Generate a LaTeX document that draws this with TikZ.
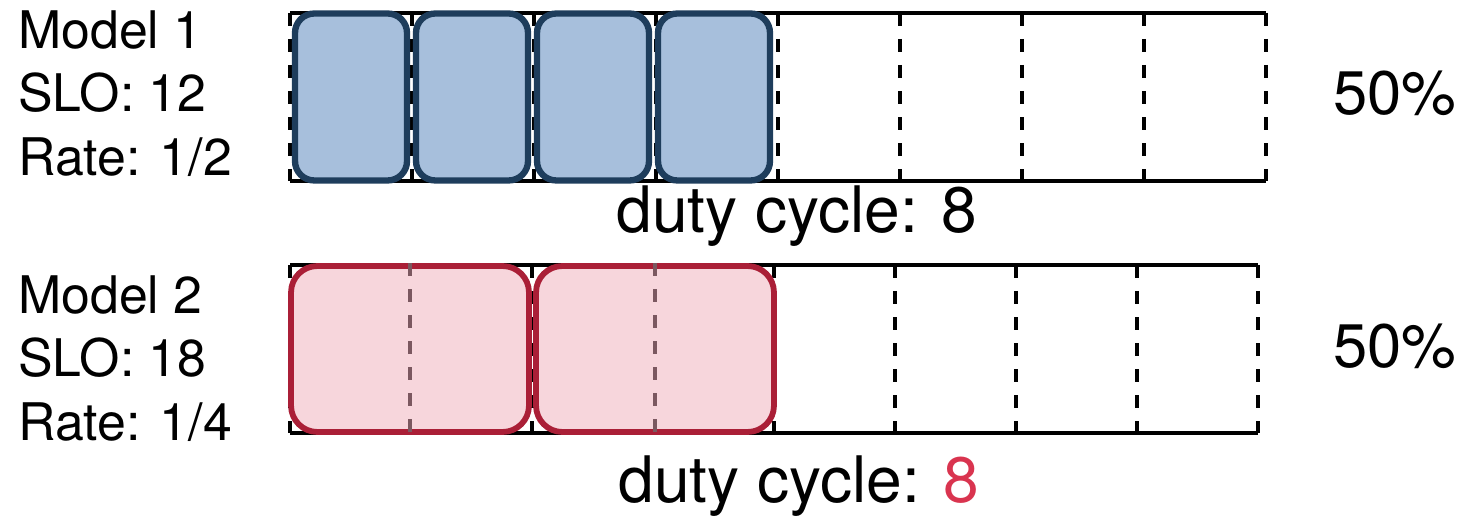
\documentclass[tikz,border=0pt]{standalone}
\usepackage{fontspec}
\setmainfont{TeX Gyre Heros}
\usetikzlibrary{positioning}
\definecolor{jobblue}{HTML}{A7BFDC}
\definecolor{jobblueline}{HTML}{1E3D5C}
\definecolor{jobpink}{HTML}{F7D6DC}
\definecolor{jobpinkline}{HTML}{AA1F37}
\definecolor{slotgray}{HTML}{7B5860}
\definecolor{hilite}{HTML}{D9344F}
\tikzset{
  rail/.style={line width=2.3pt, draw=black},
  slotline/.style={line width=2.3pt, dash pattern=on 7.4pt off 7.4pt},
  bluejob/.style={draw=jobblueline, fill=jobblue, line width=3.6pt, rounded corners=11pt, minimum width=2.24cm, minimum height=3.34cm, inner sep=0pt},
  pinkjob/.style={draw=jobpinkline, fill=jobpink, line width=3.3pt, rounded corners=15pt, minimum width=4.76cm, minimum height=3.32cm, inner sep=0pt},
  modellabel/.style={align=left, anchor=north west, font=\fontsize{29.5}{36.3}\selectfont, inner sep=0pt},
  sharelabel/.style={anchor=base west, font=\fontsize{35}{42}\selectfont, inner sep=0pt},
  dutylabel/.style={anchor=base west, font=\fontsize{36.5}{42}\selectfont, inner sep=0pt}
}

\begin{document}
\begin{tikzpicture}[x=0.02cm, y=-0.02cm]
  \useasboundingbox (0,0) rectangle (1465,516);

  % model 1: eight slots, four short jobs
  \draw[rail] (290,13) -- (1266,13) (290,181) -- (1266,181);
  \foreach \i in {0,...,8}
    \draw[slotline] ({290+122*\i},13) -- ({290+122*\i},181);
  \node[bluejob] (j1) at (351,97) {};
  \node[bluejob] (j2) at (472,97) {};
  \node[bluejob] (j3) at (593,97) {};
  \node[bluejob] (j4) at (714,97) {};

  % model 2: same slots, two jobs of two slots each
  \draw[rail] (290,265) -- (1258,265) (290,433) -- (1258,433);
  \foreach \i in {0,...,8}
    \draw[slotline] ({290+121*\i},265) -- ({290+121*\i},433);
  \node[pinkjob] (k1) at (410,349) {};
  \node[pinkjob] (k2) at (655,349) {};
  \draw[slotline, draw=slotgray] (k1.north) -- (k1.south);
  \draw[slotline, draw=slotgray] (k2.north) -- (k2.south);

  % labels
  \node[modellabel] (m1) at (18,10) {Model 1\\SLO: 12\\Rate: 1/2};
  \node[modellabel] (m2) at (18,275) {Model 2\\SLO: 18\\Rate: 1/4};
  \node[sharelabel] (u1) at (1333,115) {50\%};
  \node[sharelabel] (u2) at (1333,368) {50\%};
  \node[dutylabel] (d1) at (616,233) {duty cycle: 8};
  \node[dutylabel] (d2) at (618,503) {duty cycle: \textcolor{hilite}{8}};
\end{tikzpicture}
\end{document}
